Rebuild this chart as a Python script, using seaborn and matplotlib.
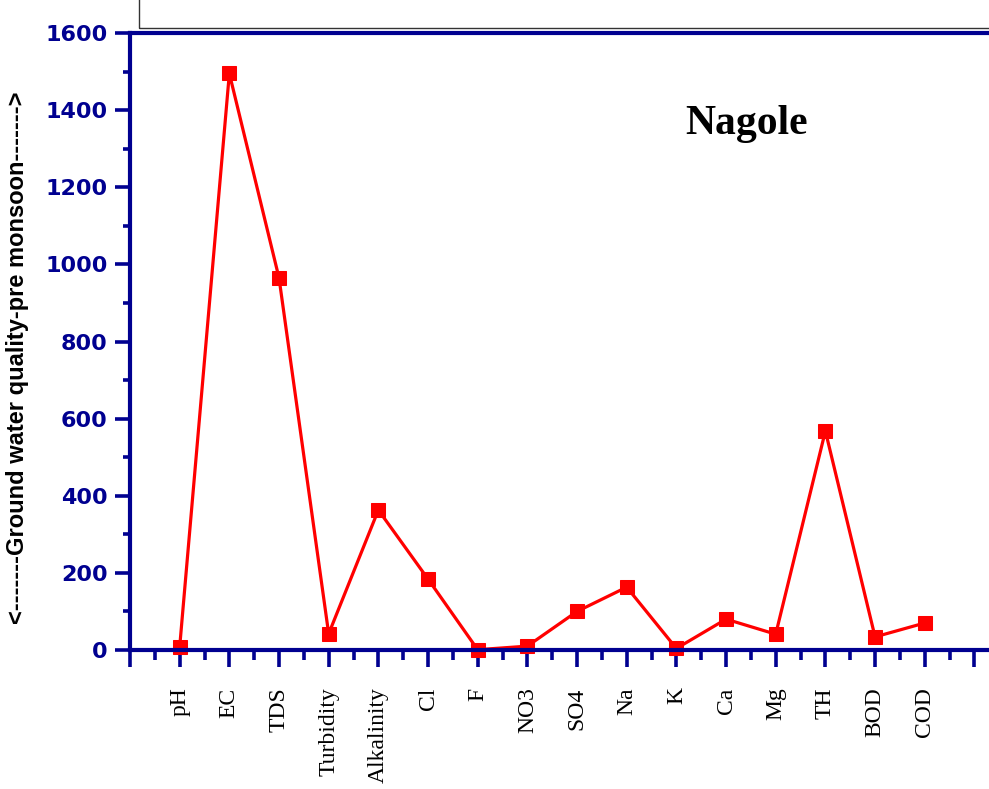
import matplotlib
matplotlib.use("Agg")
import matplotlib.pyplot as plt
import seaborn as sns
import pandas as pd
from matplotlib.patches import Rectangle
from matplotlib.ticker import MultipleLocator

# values
params = ['pH', 'EC', 'TDS', 'Turbidity', 'Alkalinity', 'Cl', 'F', 'NO3',
          'SO4', 'Na', 'K', 'Ca', 'Mg', 'TH', 'BOD', 'COD']
values = [7.5, 1495, 965, 42, 363, 184, 0.8, 10, 100, 163, 4, 80, 41, 568, 34, 70]
positions = list(range(1, len(params) + 1))

navy = '#000090'

sns.set_style('white')
plt.rcParams['font.family'] = ['Liberation Sans', 'DejaVu Sans']

fig = plt.figure(figsize=(9.89, 7.89), dpi=100)
ax = fig.add_axes([130 / 989, 139 / 789, 1 - 130 / 989, 617 / 789])

df = pd.DataFrame({'pos': positions, 'value': values})
sns.lineplot(data=df, x='pos', y='value', ax=ax, color='#ff0000', linewidth=2.3,
             marker='s', markersize=10, markeredgecolor='#ff0000', clip_on=False)

ax.set_xlim(0, 859 / 49.67)
ax.set_ylim(0, 1600)

for side in ['left', 'bottom', 'top']:
    ax.spines[side].set_color(navy)
    ax.spines[side].set_linewidth(3)
ax.spines['right'].set_visible(False)

ax.xaxis.set_major_locator(MultipleLocator(1))
ax.xaxis.set_minor_locator(MultipleLocator(0.5))
ax.yaxis.set_major_locator(MultipleLocator(200))
ax.yaxis.set_minor_locator(MultipleLocator(100))

ax.tick_params(axis='x', which='major', direction='out', length=12, width=2.6,
               color=navy, bottom=True, pad=15)
ax.tick_params(axis='x', which='minor', direction='out', length=7, width=2.6,
               color=navy, bottom=True)
ax.tick_params(axis='y', which='major', direction='out', length=11, width=2.6,
               color=navy, left=True, pad=5)
ax.tick_params(axis='y', which='minor', direction='out', length=5, width=2.6,
               color=navy, left=True)

ax.set_xticks(range(0, 18))
ax.set_xticklabels([''] + params + [''], rotation=90, va='top',
                   family='Liberation Serif', fontsize=17, color='black')
ax.set_yticks(range(0, 1601, 200))
ax.set_yticklabels([str(v) for v in range(0, 1601, 200)], family='DejaVu Sans',
                   fontweight='bold', fontsize=16, color=navy)

ax.set_xlabel('')
ax.set_ylabel('')
fig.text(18 / 989, 1 - 358 / 789,
         '<-------Ground water quality-pre monsoon------->',
         rotation=90, ha='center', va='center', fontsize=17, fontweight='bold',
         family='Liberation Sans', color='black')

fig.text(685 / 989, 1 - 134 / 789, 'Nagole', ha='left', va='baseline',
         family='Liberation Serif', fontweight='bold', fontsize=30, color='black')

# legend frame cut off at the top of the picture
fig.patches.append(Rectangle((139 / 989, 1 - 28 / 789), 0.9, 0.1,
                             transform=fig.transFigure, fill=False,
                             edgecolor='#333333', linewidth=1))

fig.savefig('out.png', dpi=100)
